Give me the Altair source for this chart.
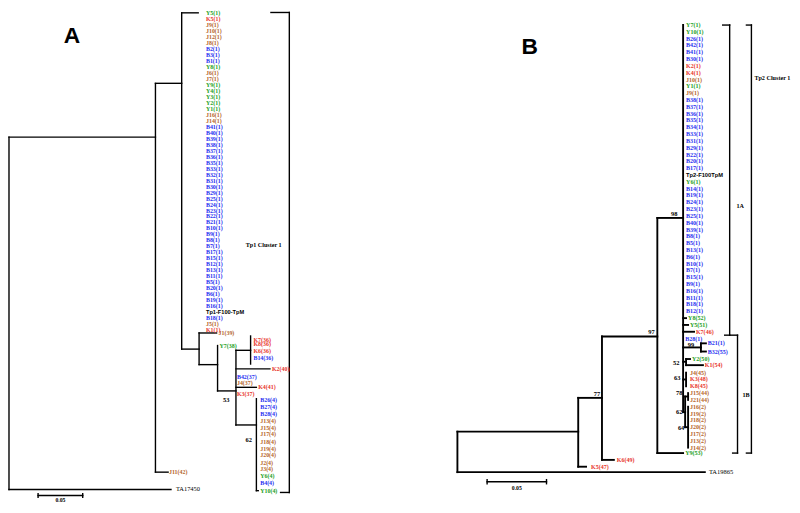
import altair as alt
import pandas as pd

# ======================= Panel A : Tp1 tree =======================
# Cluster-1 leaves (zero-length tips hanging from one node), in leaf-slot order
A_c1_names = ["Y5(1)", "K5(1)", "J9(1)", "J10(1)", "J12(1)", "J8(1)", "B2(1)", "B3(1)", "B1(1)", "Y8(1)",
              "J6(1)", "J7(1)", "Y9(1)", "Y4(1)", "Y3(1)", "Y2(1)", "Y1(1)", "J16(1)", "J14(1)", "B41(1)",
              "B40(1)", "B39(1)", "B38(1)", "B37(1)", "B36(1)", "B35(1)", "B33(1)", "B32(1)", "B31(1)", "B30(1)",
              "B29(1)", "B25(1)", "B24(1)", "B23(1)", "B22(1)", "B21(1)", "B10(1)", "B9(1)", "B8(1)", "B7(1)",
              "B17(1)", "B15(1)", "B12(1)", "B13(1)", "B11(1)", "B5(1)", "B20(1)", "B6(1)", "B19(1)", "B16(1)",
              "Tp1-F100-TpM", "B18(1)", "J5(1)", "K1(1)"]
A_c1_rows = list(range(len(A_c1_names)))
A_c1_x = [0.2207] * len(A_c1_names)

A_oth_names = ["J1(39)", "Y7(38)", "K7(36)", "K8(36)", "K6(36)", "B14(36)", "K2(40)", "B42(37)", "J4(37)",
               "K4(41)", "K3(37)", "B26(4)", "B27(4)", "B28(4)", "J13(4)", "J15(4)", "J17(4)", "J18(4)",
               "J19(4)", "J20(4)", "J2(4)", "J3(4)", "Y6(4)", "B4(4)", "Y10(4)", "J11(42)", "TA17450"]
A_oth_x = [0.2348, 0.2359, 0.2739, 0.2739, 0.2739, 0.2739, 0.2946, 0.2554, 0.2554, 0.2793, 0.2554,
           0.2815, 0.2815, 0.2815, 0.2815, 0.2815, 0.2815, 0.2815, 0.2815, 0.2815, 0.2815, 0.2815,
           0.2815, 0.2815, 0.2815, 0.1793, 0.1870]
A_oth_rows = [53.5, 55.6, 54.6, 55.4, 56.6, 57.7, 59.5, 60.8, 61.9, 62.6, 63.7,
              64.8, 65.9, 67.1, 68.2, 69.4, 70.5, 71.7, 72.9, 74.0, 75.2, 76.3, 77.5, 78.7, 79.9,
              76.8, 79.7]

# branches: distance (x) and leaf slot (y)
A_br_x0 = [0, 0, 0, 0.1641, 0.1641, 0.1641, 0.1935, 0.1935, 0.1935, 0.2130, 0.2130, 0.2130,
           0.2337, 0.2337, 0.2543, 0.2543, 0.2707, 0.2543, 0.2543, 0.2543, 0.2772, 0.2772]
A_br_x1 = [0, 0.1641, 0.1815, 0.1641, 0.1783, 0.1935, 0.1935, 0.2120, 0.2130, 0.2130, 0.2326, 0.2337,
           0.2337, 0.2543, 0.2543, 0.2707, 0.2707, 0.2924, 0.2772, 0.2772, 0.2772, 0.2793]
A_br_y0 = [20.7, 20.7, 79.7, 11.7, 76.8, 11.7, -0.1, -0.1, 56.2, 53.5, 53.5, 58.8,
           55.6, 63.2, 56.4, 56.4, 54.0, 59.5, 62.6, 68.9, 64.5, 79.9]
A_br_y1 = [79.7, 20.7, 79.7, 76.8, 76.8, 11.7, 56.2, -0.1, 56.2, 58.8, 53.5, 58.8,
           63.2, 63.2, 68.9, 56.4, 58.7, 59.5, 62.6, 68.9, 79.9, 79.9]

# cluster bracket and 0.05 scale bar
A_ex_x0 = [0.3141, 0.2935, 0.3043, 0.0326, 0.0326, 0.0826]
A_ex_x1 = [0.3141, 0.3141, 0.3141, 0.0826, 0.0326, 0.0826]
A_ex_y0 = [-0.16, -0.16, 80.2, 80.7, 80.4, 80.4]
A_ex_y1 = [80.2, -0.16, 80.2, 80.7, 81.0, 81.0]

A_boot_txt = ["53", "62"]
A_boot_x = [0.2435, 0.2685]
A_boot_y = [64.8, 71.5]

A_note_txt = ["Tp1 Cluster 1"]
A_note_x = [0.2652]
A_note_y = [38.7]

A_scale_txt = ["0.05"]
A_scale_x = [0.0576]
A_scale_y = [81.5]

A_big = ["A"]
A_big_x = [0.0707]
A_big_y = [3.73]

# ======================= Panel B : Tp2 tree =======================
B_1a_names = ["Y7(1)", "Y10(1)", "B26(1)", "B42(1)", "B41(1)", "B30(1)", "K2(1)", "K4(1)", "J10(1)", "Y1(1)",
              "J9(1)", "B38(1)", "B37(1)", "B36(1)", "B35(1)", "B34(1)", "B33(1)", "B31(1)", "B29(1)", "B22(1)",
              "B20(1)", "B17(1)", "Tp2-F100TpM", "Y6(1)", "B14(1)", "B19(1)", "B24(1)", "B23(1)", "B25(1)",
              "B40(1)", "B39(1)", "B8(1)", "B5(1)", "B13(1)", "B6(1)", "B10(1)", "B7(1)", "B15(1)", "B9(1)",
              "B16(1)", "B11(1)", "B18(1)", "B12(1)"]
B_1a_rows = list(range(len(B_1a_names)))
B_1a_x = [0.1925] * len(B_1a_names)

B_oth_names = ["Y8(52)", "Y5(51)", "K7(46)", "B28(1)", "B21(1)", "B32(55)", "Y2(50)", "K1(54)", "J4(45)",
               "K3(48)", "K8(45)", "J15(44)", "J21(44)", "J16(2)", "J19(2)", "J18(2)", "J20(2)", "J17(2)",
               "J13(2)", "J14(2)", "Y9(53)", "K6(49)", "K5(47)", "TA19865"]
B_oth_x = [0.1942, 0.1958, 0.2008, 0.1917, 0.2108, 0.2108, 0.1975, 0.2083, 0.1958,
           0.1958, 0.1958, 0.1958, 0.1958, 0.1958, 0.1958, 0.1958, 0.1958, 0.1958,
           0.1958, 0.1958, 0.1917, 0.1342, 0.1125, 0.2117]
B_oth_rows = [43, 44, 45, 46, 46.7, 47.9, 49, 49.9, 51,
              52, 53, 54, 55, 56, 57, 58, 59, 60,
              61, 62, 62.8, 63.8, 64.8, 65.6]

B_br_x0 = [0, 0, 0, 0.1017, 0.1017, 0.1017, 0.1217, 0.1217, 0.1217, 0.1683, 0.1683, 0.1683,
           0.19, 0.19, 0.19, 0.19, 0.19, 0.205, 0.205, 0.205, 0.19, 0.1925, 0.1925, 0.1925,
           0.19, 0.1925, 0.19, 0.1917, 0.1917, 0.1942, 0.1917, 0.1942]
B_br_x1 = [0, 0.2083, 0.1017, 0.1017, 0.1083, 0.1217, 0.1217, 0.1317, 0.1683, 0.1683, 0.19, 0.19,
           0.19, 0.1925, 0.1942, 0.1992, 0.205, 0.205, 0.2092, 0.2092, 0.1925, 0.1925, 0.1958, 0.2067,
           0.1925, 0.1925, 0.1917, 0.1917, 0.1942, 0.1942, 0.1942, 0.1942]
B_br_y0 = [59.66, 65.6, 59.66, 54.7, 64.8, 54.7, 45.7, 63.8, 45.7, 28.3, 62.8, 28.3,
           0, 43, 44, 45, 47.3, 46.7, 46.7, 47.9, 49.4, 49, 49, 49.9,
           52, 51, 56.8, 54.5, 54.5, 54, 59, 56]
B_br_y1 = [65.6, 65.6, 59.66, 64.8, 64.8, 54.7, 63.8, 63.8, 45.7, 62.8, 62.8, 28.3,
           56.8, 43, 44, 45, 47.3, 47.9, 46.7, 47.9, 49.4, 49.9, 49, 49.9,
           52, 53, 56.8, 59, 54.5, 55, 59, 62]

# brackets (1A, 1B, Tp2 Cluster 1) and 0.05 scale bar
B_ex_x0 = [0.2292, 0.2233, 0.2250, 0.2292, 0.2358, 0.2317, 0.2475, 0.2433, 0.2433, 0.025, 0.025, 0.075]
B_ex_x1 = [0.2292, 0.2292, 0.2292, 0.2358, 0.2358, 0.2358, 0.2475, 0.2475, 0.2475, 0.075, 0.025, 0.075]
B_ex_y0 = [0, 0, 45.5, 45.5, 45.5, 62.8, 0, 0, 62.8, 67.0, 66.7, 66.7]
B_ex_y1 = [45.5, 0, 45.5, 45.5, 62.8, 62.8, 62.8, 0, 62.8, 67.0, 67.3, 67.3]

B_boot_txt = ["77", "97", "98", "99", "52", "63", "78", "62", "64"]
B_boot_x = [0.1175, 0.1633, 0.1825, 0.1967, 0.1842, 0.1850, 0.1867, 0.1867, 0.1883]
B_boot_y = [54.1, 45.0, 27.7, 46.9, 49.6, 51.8, 54.0, 56.8, 59.1]

B_note_txt = ["1A", "1B", "Tp2 Cluster 1"]
B_note_x = [0.235, 0.240, 0.250]
B_note_y = [26.6, 54.3, 7.8]

B_scale_txt = ["0.05"]
B_scale_x = [0.05]
B_scale_y = [68.0]

B_big = ["B"]
B_big_x = [0.0608]
B_big_y = [3.27]

HOSTS = ["B", "K", "J", "Y", "ref", "out"]
HOST_COLORS = ["#1f2ff0", "#e8352a", "#b5652a", "#23a023", "#000000", "#000000"]


def host_of(name):
    if name[0] in "BKJY":
        return name[0]
    return "ref" if name.startswith("Tp") else "out"


def leaves(names, xs, rows):
    df = pd.DataFrame({"label": names, "x": xs, "y": rows})
    df["host"] = df["label"].map(host_of)
    return df


def segs(x0, x1, y0, y1):
    return pd.DataFrame({"x": x0, "x2": x1, "y": y0, "y2": y1})


def texts(t, x, y):
    return pd.DataFrame({"label": t, "x": x, "y": y})


def panel(lv, br, ex, boot, note, scl, big, xdom, ydom, lw, leaf_size):
    X = alt.X("x:Q", scale=alt.Scale(domain=xdom, nice=False, zero=False), axis=None)
    Y = alt.Y("y:Q", scale=alt.Scale(domain=ydom, nice=False, zero=False, reverse=True), axis=None)
    color = alt.Color("host:N", scale=alt.Scale(domain=HOSTS, range=HOST_COLORS), legend=None)

    tree = alt.Chart(br).mark_rule(color="black", strokeWidth=lw, strokeCap="square").encode(
        x=X, y=Y, x2="x2:Q", y2="y2:Q")
    extra = alt.Chart(ex).mark_rule(color="black", strokeWidth=1.4, strokeCap="square").encode(
        x=X, y=Y, x2="x2:Q", y2="y2:Q")
    leaf_txt = alt.Chart(lv).transform_filter(
        alt.FieldOneOfPredicate(field="host", oneOf=["B", "K", "J", "Y"])
    ).mark_text(align="left", baseline="middle", font="Liberation Serif", fontWeight="bold",
                fontSize=leaf_size).encode(x=X, y=Y, text="label:N", color=color)
    ref_txt = alt.Chart(lv).transform_filter(alt.datum.host == "ref").mark_text(
        align="left", baseline="middle", font="Liberation Sans", fontWeight="bold",
        fontSize=leaf_size - 0.3, color="black").encode(x=X, y=Y, text="label:N")
    out_txt = alt.Chart(lv).transform_filter(alt.datum.host == "out").mark_text(
        align="left", baseline="middle", font="Liberation Serif", fontSize=leaf_size + 0.5,
        color="black").encode(x=X, y=Y, text="label:N")
    boot_txt = alt.Chart(boot).mark_text(align="center", baseline="middle", font="Liberation Serif",
                                         fontWeight="bold", fontSize=6.5, color="black").encode(
        x=X, y=Y, text="label:N")
    note_txt = alt.Chart(note).mark_text(align="left", baseline="middle", font="Liberation Serif",
                                         fontWeight="bold", fontSize=6.2, color="black").encode(
        x=X, y=Y, text="label:N")
    scl_txt = alt.Chart(scl).mark_text(align="center", baseline="middle", font="Liberation Serif",
                                       fontWeight="bold", fontSize=5.8, color="black").encode(
        x=X, y=Y, text="label:N")
    big_txt = alt.Chart(big).mark_text(align="center", baseline="middle", font="Liberation Sans",
                                       fontWeight="bold", fontSize=23, color="black").encode(
        x=X, y=Y, text="label:N")
    return alt.layer(tree, extra, leaf_txt, ref_txt, out_txt, boot_txt, note_txt, scl_txt, big_txt)


A_leaves = pd.concat([leaves(A_c1_names, A_c1_x, A_c1_rows),
                      leaves(A_oth_names, A_oth_x, A_oth_rows)], ignore_index=True)
B_leaves = pd.concat([leaves(B_1a_names, B_1a_x, B_1a_rows),
                      leaves(B_oth_names, B_oth_x, B_oth_rows)], ignore_index=True)

panelA = panel(A_leaves, segs(A_br_x0, A_br_x1, A_br_y0, A_br_y1), segs(A_ex_x0, A_ex_x1, A_ex_y0, A_ex_y1),
               texts(A_boot_txt, A_boot_x, A_boot_y), texts(A_note_txt, A_note_x, A_note_y),
               texts(A_scale_txt, A_scale_x, A_scale_y), texts(A_big, A_big_x, A_big_y),
               xdom=[-0.00111, 0.87733], ydom=[-0.490, 81.88], lw=1.4, leaf_size=6.0)
panelB = panel(B_leaves, segs(B_br_x0, B_br_x1, B_br_y0, B_br_y1), segs(B_ex_x0, B_ex_x1, B_ex_y0, B_ex_y1),
               texts(B_boot_txt, B_boot_x, B_boot_y), texts(B_note_txt, B_note_x, B_note_y),
               texts(B_scale_txt, B_scale_x, B_scale_y), texts(B_big, B_big_x, B_big_y),
               xdom=[-0.37833, 0.28167], ydom=[-2.134, 70.05], lw=1.9, leaf_size=6.1)

chart = alt.layer(panelA, panelB).resolve_scale(
    x="independent", y="independent"
).properties(
    width=792, height=497, padding=0, autosize=alt.AutoSizeParams(type="none")
).configure_view(stroke=None)

chart.save("out.html", embed_options={"renderer": "svg", "actions": False})
